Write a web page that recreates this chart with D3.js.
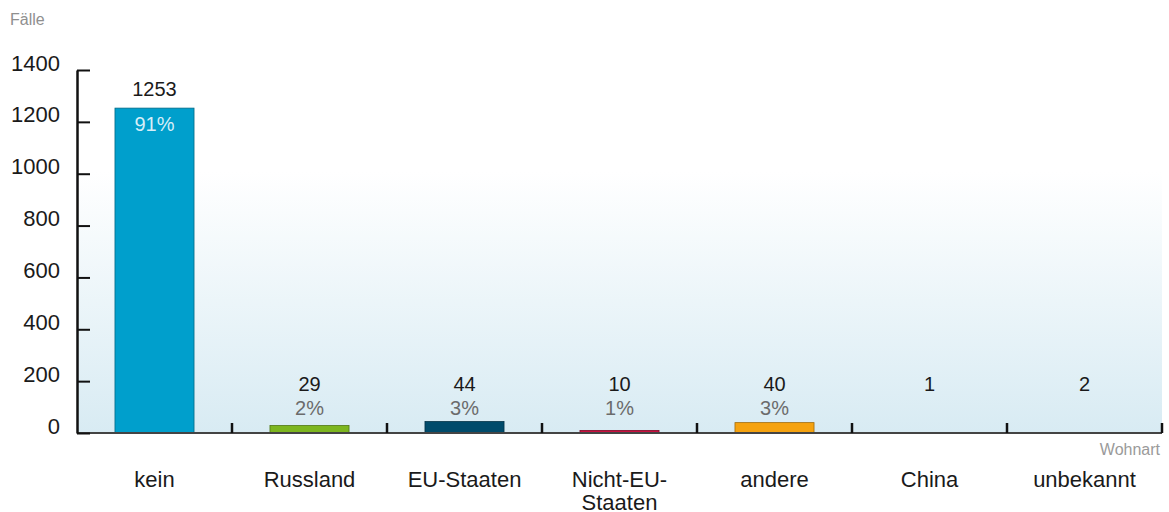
<!DOCTYPE html>
<html>
<head>
<meta charset="utf-8">
<script src="https://cdn.jsdelivr.net/npm/d3@7"></script>
<style>
  body { margin: 0; background: #fff; }
  svg { display: block; font-family: "Liberation Sans", Arial, sans-serif; }
</style>
</head>
<body>
<svg id="chart"></svg>
<script>
const categories = ["kein", "Russland", "EU-Staaten", "Nicht-EU-Staaten", "andere", "China", "unbekannt"];
const catLines = [["kein"], ["Russland"], ["EU-Staaten"], ["Nicht-EU-", "Staaten"], ["andere"], ["China"], ["unbekannt"]];
const values = [1253, 29, 44, 10, 40, 1, 2];
const percents = ["91%", "2%", "3%", "1%", "3%", "", ""];
const colors = ["#009fcc", "#7db61f", "#004b6b", "#c8103f", "#f5a20f", "#6d6d6d", "#333333"];
const yTicks = [0, 200, 400, 600, 800, 1000, 1200, 1400];

const W = 1169, H = 512;
const margin = { top: 70, right: 7, bottom: 79, left: 77 };

const svg = d3.select("#chart").attr("width", W).attr("height", H);

const x = d3.scaleBand().domain(categories).range([margin.left, W - margin.right]).padding(0);
const y = d3.scaleLinear().domain([0, 1400]).range([H - margin.bottom, margin.top]);
const barW = x.bandwidth() * 0.51;

// background gradient
const grad = svg.append("defs").append("linearGradient")
  .attr("id", "bg").attr("x1", 0).attr("y1", 0).attr("x2", 0).attr("y2", 1);
grad.append("stop").attr("offset", "0%").attr("stop-color", "#ffffff");
grad.append("stop").attr("offset", "28%").attr("stop-color", "#ffffff");
grad.append("stop").attr("offset", "100%").attr("stop-color", "#d8ebf3");

svg.append("rect")
  .attr("x", margin.left).attr("y", y(1400))
  .attr("width", x.range()[1] - margin.left).attr("height", y(0) - y(1400))
  .attr("fill", "url(#bg)");

// bars
svg.selectAll("rect.bar")
  .data(categories)
  .join("rect")
  .attr("class", "bar")
  .attr("x", (d) => x(d) + (x.bandwidth() - barW) / 2)
  .attr("y", (d, i) => y(values[i]))
  .attr("width", barW)
  .attr("height", (d, i) => y(0) - y(values[i]))
  .attr("fill", (d, i) => colors[i])
  .attr("stroke", (d, i) => d3.color(colors[i]).darker(1.2))
  .attr("stroke-width", 0.8);

// x axis line + boundary ticks
svg.append("line")
  .attr("x1", margin.left).attr("x2", x.range()[1])
  .attr("y1", y(0)).attr("y2", y(0))
  .attr("stroke", "#444").attr("stroke-width", 2);

svg.selectAll("line.xtick")
  .data(categories)
  .join("line")
  .attr("class", "xtick")
  .attr("x1", (d) => x(d) + x.step()).attr("x2", (d) => x(d) + x.step())
  .attr("y1", y(0)).attr("y2", y(0) - 10)
  .attr("stroke", "#111").attr("stroke-width", 2.5);

// y axis
const yAxis = svg.append("g")
  .attr("transform", `translate(${margin.left},0)`)
  .call(d3.axisLeft(y).tickValues(yTicks).tickFormat(d3.format("d"))
    .tickSizeInner(-13).tickSizeOuter(0).tickPadding(17));
yAxis.select(".domain").attr("stroke", "#111").attr("stroke-width", 2.5);
yAxis.selectAll(".tick line").attr("stroke", "#111").attr("stroke-width", 2);
yAxis.selectAll(".tick text")
  .attr("dy", "0")
  .attr("fill", "#1a1a1a")
  .style("font-size", "22px");

// category labels
const xAxis = svg.append("g")
  .attr("transform", `translate(0,${y(0)})`)
  .call(d3.axisBottom(x).tickSize(0).tickPadding(0));
xAxis.select(".domain").remove();
xAxis.selectAll(".tick text")
  .attr("y", 0).attr("dy", null)
  .style("font-size", "22px")
  .attr("fill", "#1a1a1a")
  .each(function (d, i) {
    const t = d3.select(this).text(null);
    catLines[i].forEach((line, j) => {
      t.append("tspan").attr("x", 0).attr("y", 54 + j * 23).text(line);
    });
  });

// value + percent labels
const big = (v) => y(0) - y(v) > 60;
svg.selectAll("text.val")
  .data(categories)
  .join("text")
  .attr("class", "val")
  .attr("x", (d) => x(d) + x.bandwidth() / 2)
  .attr("y", (d, i) => big(values[i]) ? y(values[i]) - 12 : y(0) - 42)
  .attr("text-anchor", "middle")
  .attr("fill", "#1a1a1a")
  .style("font-size", "20px")
  .text((d, i) => values[i]);

svg.selectAll("text.pct")
  .data(categories)
  .join("text")
  .attr("class", "pct")
  .attr("x", (d) => x(d) + x.bandwidth() / 2)
  .attr("y", (d, i) => big(values[i]) ? y(values[i]) + 22.5 : y(0) - 18)
  .attr("text-anchor", "middle")
  .attr("fill", (d, i) => big(values[i]) ? "#d6eef8" : "#6b6b6b")
  .style("font-size", "20px")
  .text((d, i) => percents[i]);

// axis titles
svg.append("text")
  .attr("x", 10).attr("y", 25)
  .attr("fill", "#8f8f8f")
  .style("font-size", "16px")
  .text("Fälle");

svg.append("text")
  .attr("x", x.range()[1] - 2).attr("y", y(0) + 22)
  .attr("text-anchor", "end")
  .attr("fill", "#9a9a9a")
  .style("font-size", "16px")
  .text("Wohnart");
</script>
</body>
</html>
